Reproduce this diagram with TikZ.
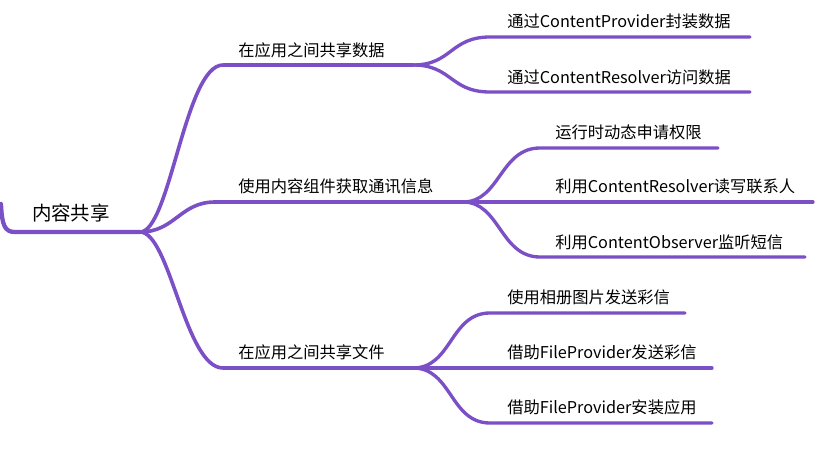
\documentclass[tikz,border=0pt]{standalone}
\usepackage{fontspec}
\setmainfont{Noto Sans CJK SC}
\begin{document}
\begin{tikzpicture}[x=0.75pt,y=-0.75pt,
  br/.style={draw=lineP,line width=2.7pt,line cap=round},
  sub/.style={draw=lineP,line width=2.5pt,line cap=round},
  lbl/.style={anchor=west,inner sep=0pt,font=\fontsize{12.2pt}{14pt}\selectfont,text=black},
  rootlbl/.style={anchor=center,inner sep=0pt,font=\fontsize{14.6pt}{17pt}\selectfont,text=black}]
\definecolor{lineP}{HTML}{7B4FC6}
\useasboundingbox (0,0) rectangle (828,460);
\fill[white] (0,0) rectangle (828,460);
% root
\node[rootlbl] (root) at (71,213) {内容共享};
\coordinate (r0) at (1,204);
\coordinate (rj) at (140,232);
\draw[draw=lineP,line width=3.2pt,line cap=round] (r0) .. controls (2,226) and (5,232) .. (15,232) -- (rj);
% branch 1
\coordinate (b1s) at (223,65); \coordinate (b1e) at (413,65);
\node[lbl] (b1) at (238,50) {在应用之间共享数据};
\draw[br] (rj) .. controls (170,232) and (185,65) .. (b1s) -- (b1e);
\coordinate (s11s) at (490,37); \coordinate (s11e) at (750,37);
\coordinate (s12s) at (490,92); \coordinate (s12e) at (750,92);
\node[lbl] (s11) at (507,21) {通过ContentProvider封装数据};
\node[lbl] (s12) at (507,77) {通过ContentResolver访问数据};
\draw[sub] (b1e) .. controls (452,65) and (450,37) .. (s11s) -- (s11e);
\draw[sub] (b1e) .. controls (452,65) and (450,92) .. (s12s) -- (s12e);
% branch 2
\coordinate (b2s) at (215,202); \coordinate (b2e) at (463,202);
\node[lbl] (b2) at (238,186) {使用内容组件获取通讯信息};
\draw[br] (rj) .. controls (175,232) and (180,202) .. (b2s) -- (b2e);
\coordinate (s21s) at (540,148); \coordinate (s21e) at (718,148);
\coordinate (s22e) at (813,202);
\coordinate (s23s) at (540,257); \coordinate (s23e) at (805,257);
\node[lbl] (s21) at (555,132) {运行时动态申请权限};
\node[lbl] (s22) at (555,186) {利用ContentResolver读写联系人};
\node[lbl] (s23) at (555,242) {利用ContentObserver监听短信};
\draw[sub] (b2e) .. controls (500,202) and (500,148) .. (s21s) -- (s21e);
\draw[sub] (b2e) -- (s22e);
\draw[sub] (b2e) .. controls (500,202) and (500,257) .. (s23s) -- (s23e);
% branch 3
\coordinate (b3s) at (223,368); \coordinate (b3e) at (413,368);
\node[lbl] (b3) at (238,352) {在应用之间共享文件};
\draw[br] (rj) .. controls (170,232) and (185,368) .. (b3s) -- (b3e);
\coordinate (s31s) at (490,313); \coordinate (s31e) at (685,313);
\coordinate (s32e) at (712,368);
\coordinate (s33s) at (490,423); \coordinate (s33e) at (712,423);
\node[lbl] (s31) at (507,297) {使用相册图片发送彩信};
\node[lbl] (s32) at (507,352) {借助FileProvider发送彩信};
\node[lbl] (s33) at (507,407) {借助FileProvider安装应用};
\draw[sub] (b3e) .. controls (452,368) and (450,313) .. (s31s) -- (s31e);
\draw[sub] (b3e) -- (s32e);
\draw[sub] (b3e) .. controls (452,368) and (450,423) .. (s33s) -- (s33e);
\end{tikzpicture}
\end{document}
